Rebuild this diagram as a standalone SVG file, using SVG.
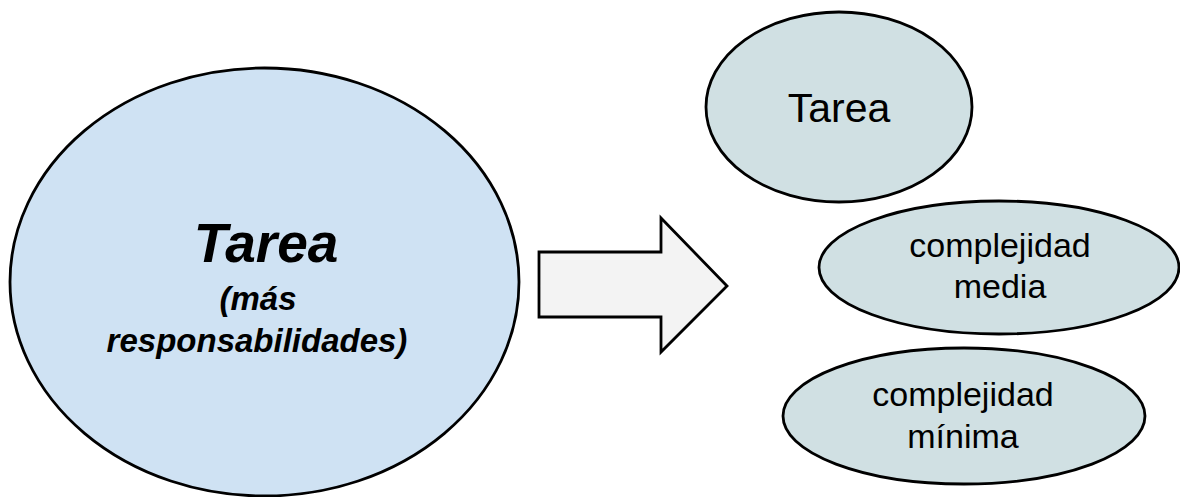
<svg xmlns="http://www.w3.org/2000/svg" width="1180" height="497" viewBox="0 0 1180 497">
  <style>
    .shape { stroke: #000; stroke-width: 2.8; }
    .main { fill: #cfe2f3; }
    .sub { fill: #d0e0e3; }
    .arrow { fill: #f3f3f3; stroke-linejoin: miter; }
    .t { font-family: "Liberation Sans", Arial, sans-serif; fill: #000; text-anchor: middle; }
    .bi { font-weight: bold; font-style: italic; }
  </style>
  <rect width="1180" height="497" fill="#fff"/>

  <g id="tarea-principal">
    <ellipse class="shape main" cx="264.5" cy="282" rx="254.5" ry="214"/>
    <text class="t bi" x="266" y="262" font-size="55">Tarea</text>
    <text class="t bi" x="258" y="310" font-size="33">(más</text>
    <text class="t bi" x="257" y="352" font-size="33">responsabilidades)</text>
  </g>

  <g id="connectors">
    <path class="shape arrow" d="M539 252 H661 V218 L727 286 L661 352 V317 H539 Z"/>
  </g>

  <g id="tarea">
    <ellipse class="shape sub" cx="839" cy="107" rx="133" ry="95"/>
    <text class="t" x="839" y="122" font-size="41">Tarea</text>
  </g>

  <g id="complejidad-media">
    <ellipse class="shape sub" cx="999" cy="267.5" rx="180" ry="66.5"/>
    <text class="t" x="1000" y="257" font-size="34">complejidad</text>
    <text class="t" x="1000" y="298" font-size="34">media</text>
  </g>

  <g id="complejidad-minima">
    <ellipse class="shape sub" cx="964" cy="416" rx="181" ry="68"/>
    <text class="t" x="963" y="406" font-size="34">complejidad</text>
    <text class="t" x="963" y="448" font-size="34">mínima</text>
  </g>
</svg>
